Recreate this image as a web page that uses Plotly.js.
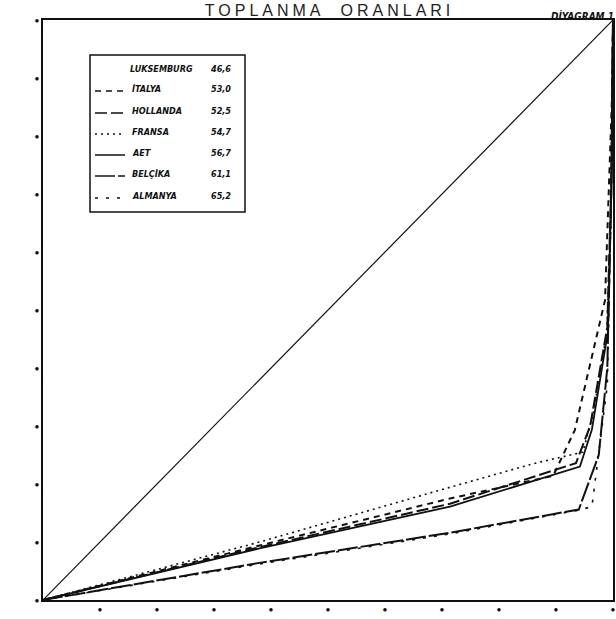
<!DOCTYPE html>
<html>
<head>
<meta charset="utf-8">
<script src="https://cdn.plot.ly/plotly-3.0.1.min.js"></script>
<style>
  html, body { margin: 0; padding: 0; background: #fff; }
  #chart { width: 616px; height: 619px; }
  .gtitle { letter-spacing: 4px; }
</style>
</head>
<body>
<div id="chart"></div>
<script>
// ---- data ----
const tickVals = [0, 10, 20, 30, 40, 50, 60, 70, 80, 90, 100];
const legendNames = ["LUKSEMBURG", "İTALYA", "HOLLANDA", "FRANSA", "AET", "BELÇİKA", "ALMANYA"];
const ratioValues = ["46,6", "53,0", "52,5", "54,7", "56,7", "61,1", "65,2"];

const equalityX = [0, 100];
const equalityY = [0, 100];

const italyaX = [0, 38, 71.4, 86.7, 89.5, 93.3, 98.6, 99.8, 100];
const italyaY = [0, 9.4, 17.5, 20.7, 21.4, 29.3, 51.7, 86, 100];

const hollandaX = [0, 38, 71.4, 93.5, 96, 99, 99.7, 100];
const hollandaY = [0, 9.1, 16.6, 23.6, 30, 47, 72, 100];

const fransaX = [0, 38, 70.2, 86, 94.7, 96.5, 98.9, 99.6, 100];
const fransaY = [0, 10, 19.1, 23.5, 25.5, 32, 46, 65, 100];

const aetX = [0, 38, 71.4, 94.2, 96.3, 99.1, 99.7, 100];
const aetY = [0, 8.9, 16.1, 23.0, 29.4, 46.2, 70, 100];

const belcikaX = [0, 38, 71.4, 94.0, 97.5, 99.0, 99.8, 100];
const belcikaY = [0, 6.4, 11.6, 15.6, 25, 40, 75, 100];

const almanyaX = [0, 38, 71.4, 94.0, 96.3, 97.3, 99.0, 99.8, 100];
const almanyaY = [0, 6.2, 11.4, 15.5, 16.1, 24, 37, 75, 100];

// ---- styles ----
const dashStyles = [null, "6px,5px", "12px,4px", "2px,4px", "solid", "20px,3px", "3px,8px"];
const widths = [0, 2, 2, 1.6, 1.8, 2, 1.6];

const seriesX = [null, italyaX, hollandaX, fransaX, aetX, belcikaX, almanyaX];
const seriesY = [null, italyaY, hollandaY, fransaY, aetY, belcikaY, almanyaY];

const traces = [{
  x: equalityX, y: equalityY, mode: "lines", type: "scatter",
  line: { color: "#111", width: 1.2 }, showlegend: false, hoverinfo: "skip"
}];
for (let i = 1; i < legendNames.length; i++) {
  traces.push({
    x: seriesX[i], y: seriesY[i], mode: "lines", type: "scatter",
    name: legendNames[i],
    line: { color: "#111", width: widths[i], dash: dashStyles[i] },
    showlegend: false
  });
}

// ---- custom legend box ----
const L = 43, R = 613, T = 20, B = 600;
const px = v => (v - L) / (R - L);
const py = v => (B - v) / (B - T);
const rowY = [69, 89, 111, 132, 153, 174, 196];

const shapes = [{
  type: "rect", xref: "paper", yref: "paper",
  x0: px(90), x1: px(245), y0: py(212), y1: py(55),
  line: { color: "#111", width: 1.5 }, fillcolor: "rgba(0,0,0,0)"
}];
const annotations = [];
const legFont = { family: "DejaVu Sans Condensed, DejaVu Sans, sans-serif", size: 9, color: "#111", weight: "bold", style: "italic" };
for (let i = 0; i < legendNames.length; i++) {
  annotations.push({
    xref: "paper", yref: "paper", x: px(i === 0 ? 128 : 130), y: py(rowY[i]),
    xanchor: "left", yanchor: "middle", showarrow: false,
    text: "<b><i>" + legendNames[i] + "</i></b>", font: legFont
  });
  annotations.push({
    xref: "paper", yref: "paper", x: px(209), y: py(rowY[i]),
    xanchor: "left", yanchor: "middle", showarrow: false,
    text: "<b><i>" + ratioValues[i] + "</i></b>", font: legFont
  });
  if (dashStyles[i]) {
    shapes.push({
      type: "line", xref: "paper", yref: "paper",
      x0: px(95), x1: px(125), y0: py(rowY[i] + 2), y1: py(rowY[i] + 2),
      line: { color: "#111", width: 1.5, dash: dashStyles[i] }
    });
  }
}
annotations.push({
  xref: "paper", yref: "paper", x: px(549), y: py(15),
  xanchor: "left", yanchor: "middle", showarrow: false,
  text: "<b><i>DİYAGRAM 1</i></b>",
  font: { family: "DejaVu Sans Condensed, DejaVu Sans, sans-serif", size: 10, color: "#111" }
});

const tickText = tickVals.map(() => "●");
const xTickText = tickVals.map(v => v === 0 ? "" : "●");

const layout = {
  width: 616, height: 619,
  margin: { l: 43, r: 3, t: 20, b: 19 },
  paper_bgcolor: "#fff", plot_bgcolor: "#fff",
  title: {
    text: "TOPLANMA  ORANLARI",
    x: 0.535, xanchor: "center", y: 0.984, yanchor: "middle",
    font: { family: "Liberation Sans, DejaVu Sans, sans-serif", size: 16, color: "#222" }
  },
  xaxis: {
    range: [0, 100], showgrid: false, zeroline: false,
    showline: true, linecolor: "#111", linewidth: 2, mirror: true,
    tickmode: "array", tickvals: tickVals, ticktext: xTickText,
    ticks: "", tickfont: { size: 8, color: "#111" }
  },
  yaxis: {
    range: [0, 100], showgrid: false, zeroline: false,
    showline: true, linecolor: "#111", linewidth: 2, mirror: true,
    tickmode: "array", tickvals: tickVals, ticktext: tickText,
    ticks: "", tickfont: { size: 8, color: "#111" }
  },
  shapes: shapes,
  annotations: annotations,
  showlegend: false
};

Plotly.newPlot("chart", traces, layout, { displayModeBar: false, staticPlot: true });
</script>
</body>
</html>
